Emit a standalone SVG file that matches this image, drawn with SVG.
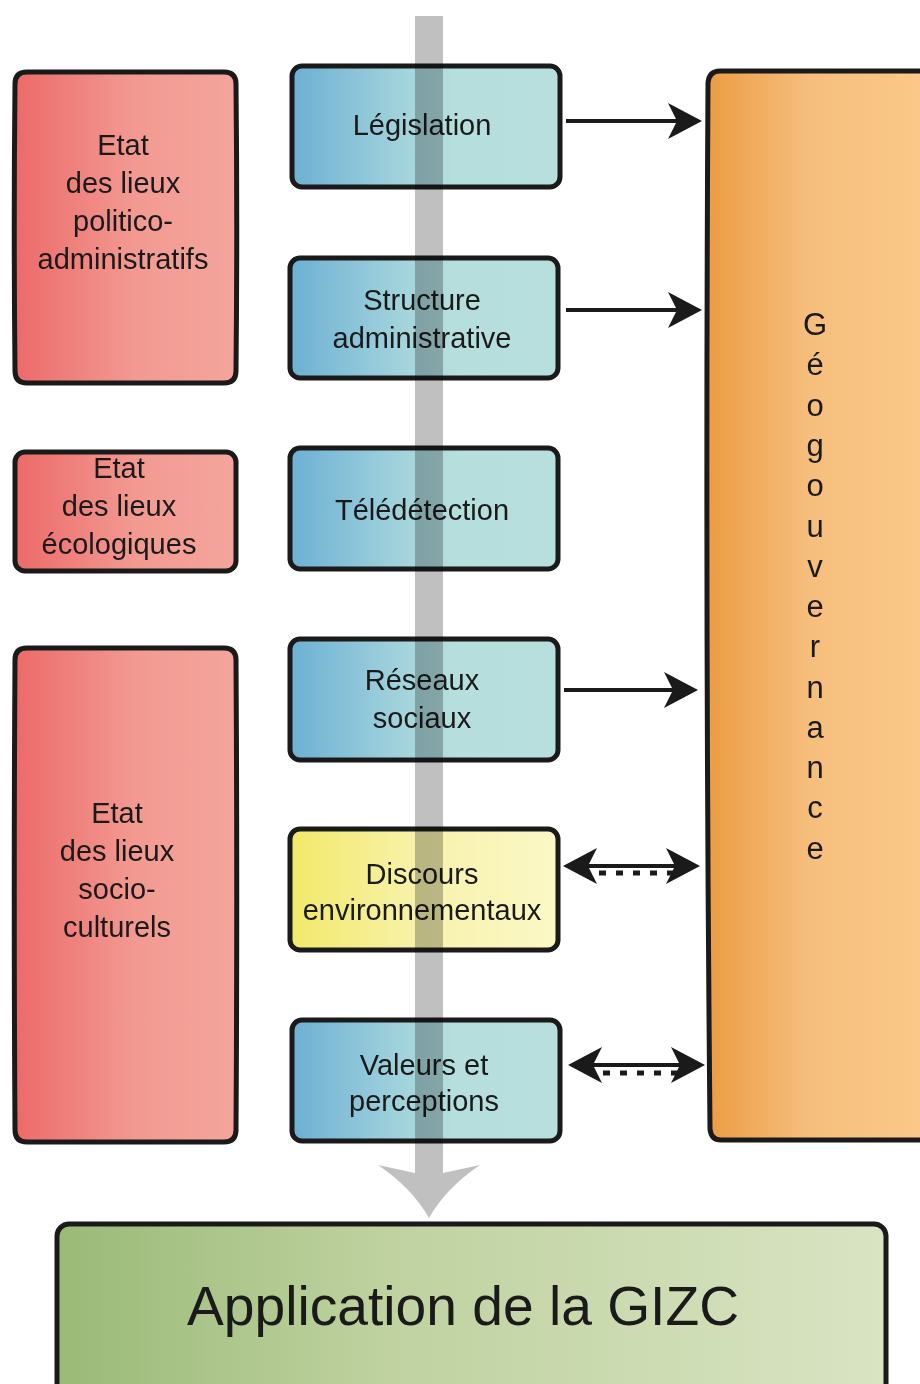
<svg xmlns="http://www.w3.org/2000/svg" width="920" height="1384" viewBox="0 0 920 1384">
  <defs>
    <linearGradient id="gRed" x1="0" y1="0" x2="1" y2="0">
      <stop offset="0" stop-color="#ec6a69"/>
      <stop offset="0.55" stop-color="#f29a92"/>
      <stop offset="1" stop-color="#f4a59c"/>
    </linearGradient>
    <linearGradient id="gBlue" x1="0" y1="0" x2="1" y2="0">
      <stop offset="0" stop-color="#6db0d3"/>
      <stop offset="0.45" stop-color="#a6d6dd"/>
      <stop offset="0.6" stop-color="#b5dedd"/>
      <stop offset="1" stop-color="#b8dfdd"/>
    </linearGradient>
    <linearGradient id="gYellow" x1="0" y1="0" x2="1" y2="0">
      <stop offset="0" stop-color="#f2e96a"/>
      <stop offset="0.5" stop-color="#f8f2ad"/>
      <stop offset="1" stop-color="#fbf8c6"/>
    </linearGradient>
    <linearGradient id="gOrange" x1="0" y1="0" x2="1" y2="0">
      <stop offset="0" stop-color="#ec9c43"/>
      <stop offset="0.45" stop-color="#f6be7c"/>
      <stop offset="1" stop-color="#fbc98a"/>
    </linearGradient>
    <linearGradient id="gGreen" x1="0" y1="0" x2="1" y2="0">
      <stop offset="0" stop-color="#9aba77"/>
      <stop offset="0.4" stop-color="#bfd2a0"/>
      <stop offset="1" stop-color="#d9e4c3"/>
    </linearGradient>
    <!-- barbed arrowhead, tip sits 10 units past the line end -->
    <marker id="head" markerUnits="userSpaceOnUse" viewBox="-36 -20 48 40" refX="-10" refY="0" markerWidth="48" markerHeight="40" orient="auto-start-reverse">
      <path d="M0,0 L-34,-18 L-25,0 L-34,18 Z" fill="#1a1a1a"/>
    </marker>
  </defs>
  <style>
    .box { stroke: #1a1a1a; stroke-width: 5; stroke-linejoin: round; }
    .lbl { font-family: "Liberation Sans", Arial, sans-serif; font-size: 29px; fill: #1a1a1a; text-anchor: middle; }
    .vert { font-family: "Liberation Sans", Arial, sans-serif; font-size: 31px; fill: #1a1a1a; text-anchor: middle; }
    .big { font-family: "Liberation Sans", Arial, sans-serif; font-size: 56px; fill: #1a1a1a; text-anchor: middle; }
    .link { stroke: #1a1a1a; stroke-width: 4; fill: none; }
    .dash { stroke: #1a1a1a; stroke-width: 5; fill: none; stroke-dasharray: 7 10; }
    .flow { fill: #c0c0c0; mix-blend-mode: multiply; }
  </style>

  <rect width="920" height="1384" fill="#ffffff"/>

  <!-- left column: inventories -->
  <g id="etat-politico">
    <path class="box" fill="url(#gRed)" d="M27,72 H224 Q236,72 236,84 Q237.5,228 236,371 Q236,383 224,383 H27 Q15,383 15,371 Q13.5,228 15,84 Q15,72 27,72 Z"/>
    <text class="lbl" x="123" y="155">Etat</text>
    <text class="lbl" x="123" y="193">des lieux</text>
    <text class="lbl" x="123" y="231">politico-</text>
    <text class="lbl" x="123" y="269">administratifs</text>
  </g>
  <g id="etat-ecologiques">
    <rect class="box" fill="url(#gRed)" x="15" y="452" width="221" height="119" rx="10"/>
    <text class="lbl" x="119" y="478">Etat</text>
    <text class="lbl" x="119" y="516">des lieux</text>
    <text class="lbl" x="119" y="554">écologiques</text>
  </g>
  <g id="etat-socio">
    <path class="box" fill="url(#gRed)" d="M27,648 H224 Q236,648 236,660 Q237.5,895 236,1130 Q236,1142 224,1142 H27 Q15,1142 15,1130 Q13.5,895 15,660 Q15,648 27,648 Z"/>
    <text class="lbl" x="117" y="823">Etat</text>
    <text class="lbl" x="117" y="861">des lieux</text>
    <text class="lbl" x="117" y="899">socio-</text>
    <text class="lbl" x="117" y="937">culturels</text>
  </g>

  <!-- middle column: data sources -->
  <g id="legislation">
    <rect class="box" fill="url(#gBlue)" x="292" y="66" width="268" height="121" rx="10"/>
    <text class="lbl" x="422" y="135">Législation</text>
  </g>
  <g id="structure">
    <rect class="box" fill="url(#gBlue)" x="290" y="258" width="268" height="120" rx="10"/>
    <text class="lbl" x="422" y="310">Structure</text>
    <text class="lbl" x="422" y="348">administrative</text>
  </g>
  <g id="teledetection">
    <rect class="box" fill="url(#gBlue)" x="290" y="448" width="268" height="121" rx="10"/>
    <text class="lbl" x="422" y="520">Télédétection</text>
  </g>
  <g id="reseaux">
    <rect class="box" fill="url(#gBlue)" x="290" y="639" width="268" height="121" rx="10"/>
    <text class="lbl" x="422" y="690">Réseaux</text>
    <text class="lbl" x="422" y="728">sociaux</text>
  </g>
  <g id="discours">
    <rect class="box" fill="url(#gYellow)" x="290" y="829" width="268" height="121" rx="10"/>
    <text class="lbl" x="422" y="884">Discours</text>
    <text class="lbl" x="422" y="920">environnementaux</text>
  </g>
  <g id="valeurs">
    <rect class="box" fill="url(#gBlue)" x="292" y="1020" width="268" height="121" rx="10"/>
    <text class="lbl" x="424" y="1075">Valeurs et</text>
    <text class="lbl" x="424" y="1111">perceptions</text>
  </g>

  <!-- right column: vertical label, one letter per line -->
  <g id="geogouvernance">
    <path class="box" fill="url(#gOrange)" d="M720,71 H930 V1140 H721 Q711,1140 710,1129 Q705,605 708,83 Q709,71 720,71 Z"/>
    <text class="vert" x="815" y="335">G</text>
    <text class="vert" x="815" y="375">é</text>
    <text class="vert" x="815" y="416">o</text>
    <text class="vert" x="815" y="456">g</text>
    <text class="vert" x="815" y="496">o</text>
    <text class="vert" x="815" y="537">u</text>
    <text class="vert" x="815" y="577">v</text>
    <text class="vert" x="815" y="617">e</text>
    <text class="vert" x="815" y="657">r</text>
    <text class="vert" x="815" y="698">n</text>
    <text class="vert" x="815" y="738">a</text>
    <text class="vert" x="815" y="778">n</text>
    <text class="vert" x="815" y="818">c</text>
    <text class="vert" x="815" y="859">e</text>
  </g>

  <!-- bottom outcome -->
  <g id="application">
    <rect class="box" fill="url(#gGreen)" x="57" y="1224" width="829" height="190" rx="12"/>
    <text class="big" x="463" y="1325" textLength="552" lengthAdjust="spacingAndGlyphs">Application de la GIZC</text>
  </g>

  <!-- connectors -->
  <g id="connectors">
    <!-- main grey flow through the middle column -->
    <path class="flow" d="M415,16 H443 V1173 L480,1165 Q446,1188 429,1218 Q412,1188 378,1165 L415,1173 Z"/>
    <line class="link" x1="566" y1="121" x2="692" y2="121" marker-end="url(#head)"/>
    <line class="link" x1="566" y1="310" x2="692" y2="310" marker-end="url(#head)"/>
    <line class="link" x1="564" y1="690" x2="688" y2="690" marker-end="url(#head)"/>
    <line class="link" x1="573" y1="866" x2="690" y2="866" marker-start="url(#head)" marker-end="url(#head)"/>
    <line class="dash" x1="599" y1="873" x2="674" y2="873"/>
    <line class="link" x1="578" y1="1065" x2="695" y2="1065" marker-start="url(#head)" marker-end="url(#head)"/>
    <line class="dash" x1="603" y1="1073" x2="678" y2="1073"/>
  </g>
</svg>
